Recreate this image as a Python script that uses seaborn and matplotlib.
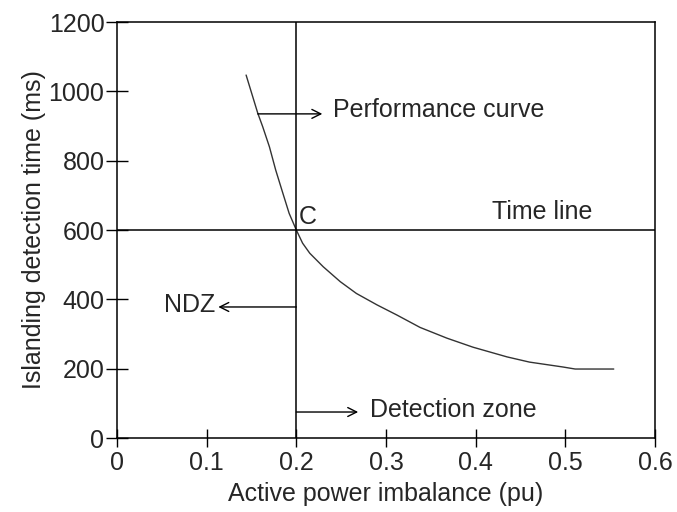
import matplotlib
matplotlib.use("Agg")
import matplotlib.pyplot as plt
import seaborn as sns
import pandas as pd

# === Данные ===
imbalance = [0.144, 0.157, 0.1625, 0.170, 0.177, 0.185, 0.192, 0.200,
             0.207, 0.215, 0.230, 0.249, 0.267, 0.290, 0.312, 0.338, 0.368,
             0.397, 0.435, 0.460, 0.497, 0.511, 0.554]
detect_time = [1047, 937, 898, 840, 773, 706, 648, 600,
               562, 533, 494, 451, 417, 384, 355, 319, 288,
               262, 234, 219, 205, 199, 199]

threshold_x = 0.2
time_line_y = 600

x_ticks = [0, 0.1, 0.2, 0.3, 0.4, 0.5, 0.6]
x_tick_labels = ["0", "0.1", "0.2", "0.3", "0.4", "0.5", "0.6"]
y_ticks = [0, 200, 400, 600, 800, 1000, 1200]

curve = pd.DataFrame({"imbalance": imbalance, "time": detect_time})

# === Стиль ===
sns.set_style("ticks")
plt.rcParams["font.family"] = ["Liberation Sans", "DejaVu Sans"]
FS = 18

fig = plt.figure(figsize=(6.77, 5.12), dpi=100)
ax = fig.add_axes([0.1728, 0.1445, 0.7947, 0.8125])

sns.lineplot(data=curve, x="imbalance", y="time", ax=ax, color="#333333", lw=1.0)

ax.axvline(threshold_x, color="black", lw=1.1)
ax.axhline(time_line_y, color="black", lw=1.1)

ax.set_xlim(0, 0.6)
ax.set_ylim(0, 1200)
ax.set_xticks(x_ticks)
ax.set_yticks(y_ticks)
ax.set_xticklabels(x_tick_labels)
ax.tick_params(axis="both", direction="inout", labelsize=FS, width=1, color="black")
ax.tick_params(axis="y", length=16, pad=1)
ax.tick_params(axis="x", length=13, pad=3)
for s in ax.spines.values():
    s.set_visible(True)
    s.set_color("black")
    s.set_linewidth(1.1)

ax.set_xlabel("Active power imbalance (pu)", fontsize=FS, labelpad=5)
ax.set_ylabel("Islanding detection time (ms)", fontsize=FS, labelpad=2)

# === Стрелки и подписи ===
arrow = dict(arrowstyle="->", color="black", lw=1.0, shrinkA=0, shrinkB=0,
             mutation_scale=16)
ax.annotate("", xy=(0.229, 935), xytext=(0.157, 935), arrowprops=arrow)
ax.text(0.241, 945, "Performance curve", fontsize=FS, va="center", ha="left")

ax.annotate("", xy=(0.113, 378), xytext=(threshold_x, 378), arrowprops=arrow)
ax.text(0.110, 383, "NDZ", fontsize=FS, va="center", ha="right")

ax.annotate("", xy=(0.269, 75), xytext=(threshold_x, 75), arrowprops=arrow)
ax.text(0.282, 82, "Detection zone", fontsize=FS, va="center", ha="left")

ax.text(0.474, 652, "Time line", fontsize=FS, va="center", ha="center")
ax.text(0.203, 637, "C", fontsize=FS, va="center", ha="left")

plt.savefig("out.png", dpi=100)
plt.close()
